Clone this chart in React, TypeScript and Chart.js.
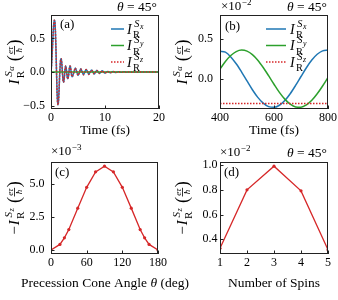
import React, { useEffect, useRef } from "react";
import { Chart, registerables } from "chart.js";
Chart.register(...registerables);

// ---------- data ----------
// (a) early-time currents, theta = 45 deg
const timeA = [
  0.0, 0.1, 0.2, 0.3, 0.4, 0.5, 0.6, 0.7, 0.8, 0.9,
  1.0, 1.1, 1.2, 1.3, 1.4, 1.5, 1.6, 1.7, 1.8, 1.9,
  2.0, 2.1, 2.2, 2.3, 2.4, 2.5, 2.6, 2.7, 2.8, 2.9,
  3.0, 3.1, 3.2, 3.3, 3.4, 3.5, 3.6, 3.7, 3.8, 3.9, 4.0,
  4.25, 4.5, 4.75, 5.0, 5.25, 5.5, 5.75, 6.0, 6.25, 6.5, 6.75, 7.0,
  7.25, 7.5, 7.75, 8.0, 8.25, 8.5, 8.75, 9.0, 9.25, 9.5, 9.75, 10.0,
  10.5, 11.0, 11.5, 12.0, 12.5, 13.0, 13.5, 14.0, 14.5, 15.0,
  15.5, 16.0, 16.5, 17.0, 17.5, 18.0, 18.5, 19.0, 19.5, 20.0,
];
const sxA = [
  0.0, 0.1, 0.25, 0.42, 0.58, 0.71, 0.77, 0.76, 0.64, 0.4,
  0.08, -0.24, -0.43, -0.49, -0.42, -0.25, -0.05, 0.1, 0.19, 0.2,
  0.13, 0.01, -0.1, -0.15, -0.13, -0.05, 0.04, 0.09, 0.07, 0.0,
  -0.07, -0.1, -0.08, -0.02, 0.05, 0.09, 0.08, 0.02, -0.04, -0.07, -0.06,
  0.0, 0.06, 0.01, -0.05, -0.01, 0.05, 0.01, -0.04, 0.0, 0.04, 0.01, -0.035,
  0.0, 0.03, 0.005, -0.03, 0.0, 0.025, 0.0, -0.02, 0.0, 0.02, 0.0, -0.015,
  0.01, -0.01, 0.008, -0.006, 0.005, -0.004, 0.003, -0.002, 0.002, -0.001,
  0.001, 0.0, 0.0, 0.0, 0.0, 0.0, 0.0, 0.0, 0.0, 0.0,
];
const szA = sxA;
const timeSyA = [0, 20];
const syA = [0, 0];

// (b) late-time currents (x 10^-2)
const timeB = [400, 420, 440, 460, 480, 500, 520, 540, 560, 580, 600, 620, 640, 660, 680, 700, 720, 740, 760, 780, 800];
const sxB = [0.345, 0.333, 0.274, 0.188, 0.084, -0.028, -0.138, -0.234, -0.307, -0.35, -0.359, -0.333, -0.274, -0.188, -0.084, 0.028, 0.138, 0.234, 0.307, 0.35, 0.36];
const syB = [0.121, 0.216, 0.291, 0.341, 0.36, 0.347, 0.303, 0.233, 0.141, 0.038, -0.069, -0.171, -0.256, -0.32, -0.354, -0.357, -0.329, -0.271, -0.189, -0.091, 0.016];
const timeSzB = [400, 800];
const szB = [-0.31, -0.31];

// (c) vs cone angle (x 10^-3)
const angleC = [0, 15, 22.5, 30, 45, 60, 75, 90, 105, 120, 135, 150, 157.5, 165, 180];
const valC = [0, 0.43, 0.93, 1.56, 3.19, 4.77, 5.95, 6.38, 5.95, 4.77, 3.19, 1.56, 0.93, 0.43, 0];

// (d) vs number of spins (x 10^-2)
const spinsD = [1, 2, 3, 4, 5];
const valD = [0.326, 0.8, 0.992, 0.792, 0.314];

// ticks
const xTicksA = [0, 10, 20];
const xLabelsA = ["0", "10", "20"];
const yTicksA = [-0.5, 0, 0.5];
const yLabelsA = ["\u22120.5", "0.0", "0.5"];
const xTicksB = [400, 600, 800];
const xLabelsB = ["400", "600", "800"];
const yTicksB = [0, 0.5];
const yLabelsB = ["0.0", "0.5"];
const xTicksC = [0, 60, 120, 180];
const xLabelsC = ["0", "60", "120", "180"];
const yTicksC = [0, 2.5, 5];
const yLabelsC = ["0.0", "2.5", "5.0"];
const xTicksD = [1, 2, 3, 4, 5];
const xLabelsD = ["1", "2", "3", "4", "5"];
const yTicksD = [0.4, 0.6, 0.8, 1.0];
const yLabelsD = ["0.4", "0.6", "0.8", "1.0"];

// ---------- style ----------
const W = 338;
const H = 300;
const BLUE = "#1f77b4";
const GREEN = "#2ca02c";
const RED = "#d62728";
const SERIF = '"Liberation Serif", "Times New Roman", serif';
const YW = 40;
const XH = 20;

const rm = (s: number) => `${s}px ${SERIF}`;
const it = (s: number) => `italic ${s}px ${SERIF}`;

function irSymbol(ctx: CanvasRenderingContext2D, x: number, y: number, size: number, sub: string, minus: boolean, draw: boolean): number {
  let cx = x;
  if (minus) {
    ctx.font = rm(size);
    if (draw) ctx.fillText("\u2212", cx, y);
    cx += ctx.measureText("\u2212").width + 1;
  }
  ctx.font = it(size);
  if (draw) ctx.fillText("I", cx, y);
  cx += ctx.measureText("I").width + size * 0.15;
  const small = size * 0.74;
  const tiny = size * 0.56;
  ctx.font = rm(small);
  const wR = ctx.measureText("R").width;
  if (draw) ctx.fillText("R", cx - size * 0.06, y + size * 0.34);
  ctx.font = it(small);
  const wS = ctx.measureText("S").width;
  const sy = y - size * 0.5;
  if (draw) ctx.fillText("S", cx + size * 0.04, sy);
  ctx.font = it(tiny);
  const wsub = ctx.measureText(sub).width;
  if (draw) ctx.fillText(sub, cx + size * 0.04 + wS + 0.4, sy + size * 0.18);
  cx += Math.max(wR, size * 0.04 + wS + wsub + 0.4);
  return cx - x;
}

function fracUnit(ctx: CanvasRenderingContext2D, x: number, y: number, size: number, draw: boolean): number {
  let cx = x;
  const ps = size * 1.2;
  ctx.font = rm(ps);
  const wp = ctx.measureText("(").width;
  if (draw) ctx.fillText("(", cx, y + size * 0.08);
  cx += wp + 0.5;
  const fs = size * 0.6;
  ctx.font = it(fs);
  const wn = ctx.measureText("e\u03c4").width;
  const wd = ctx.measureText("\u0127").width;
  const w = Math.max(wn, wd) + 1.5;
  if (draw) {
    ctx.fillText("e\u03c4", cx + (w - wn) / 2, y - size * 0.4);
    ctx.fillText("\u0127", cx + (w - wd) / 2, y + size * 0.22);
    ctx.fillRect(cx, y - size * 0.33, w, 0.8);
  }
  cx += w + 0.5;
  ctx.font = rm(ps);
  if (draw) ctx.fillText(")", cx, y + size * 0.08);
  cx += ctx.measureText(")").width;
  return cx - x;
}

function yTitle(ctx: CanvasRenderingContext2D, cx: number, cy: number, size: number, sub: string, minus: boolean) {
  ctx.save();
  ctx.translate(cx, cy);
  ctx.rotate(-Math.PI / 2);
  ctx.textAlign = "left";
  ctx.textBaseline = "alphabetic";
  ctx.fillStyle = "#000";
  const gap = size * 0.35;
  const w = irSymbol(ctx, 0, 0, size, sub, minus, false) + gap + fracUnit(ctx, 0, 0, size, false);
  let x = -w / 2;
  const y = size * 0.4;
  x += irSymbol(ctx, x, y, size, sub, minus, true) + gap;
  fracUnit(ctx, x, y, size, true);
  ctx.restore();
}

function theta45(ctx: CanvasRenderingContext2D, right: number, cy: number) {
  const size = 13.5;
  ctx.textBaseline = "middle";
  ctx.textAlign = "left";
  ctx.font = rm(size);
  const rest = " = 45\u00b0";
  const w2 = ctx.measureText(rest).width;
  ctx.font = it(size);
  const w1 = ctx.measureText("\u03b8").width;
  const x = right - w1 - w2;
  ctx.fillText("\u03b8", x, cy);
  ctx.font = rm(size);
  ctx.fillText(rest, x + w1, cy);
}

function times10(ctx: CanvasRenderingContext2D, x: number, cy: number, exp: string) {
  ctx.textBaseline = "middle";
  ctx.textAlign = "left";
  ctx.font = rm(13);
  ctx.fillText("\u00d710", x, cy + 1);
  const w = ctx.measureText("\u00d710").width;
  ctx.font = rm(9);
  ctx.fillText("\u2212" + exp, x + w + 0.5, cy - 3.5);
}

function plainText(ctx: CanvasRenderingContext2D, s: string, x: number, cy: number, size: number, align: CanvasTextAlign) {
  ctx.textBaseline = "middle";
  ctx.textAlign = align;
  ctx.font = rm(size);
  ctx.fillText(s, x, cy);
}

function coneTitle(ctx: CanvasRenderingContext2D, cx: number, cy: number) {
  const size = 13.5;
  const p1 = "Precession Cone Angle ";
  const p2 = "\u03b8";
  const p3 = " (deg)";
  ctx.textBaseline = "middle";
  ctx.textAlign = "left";
  ctx.font = rm(size);
  const w1 = ctx.measureText(p1).width;
  const w3 = ctx.measureText(p3).width;
  ctx.font = it(size);
  const w2 = ctx.measureText(p2).width;
  let x = cx - (w1 + w2 + w3) / 2;
  ctx.font = rm(size);
  ctx.fillText(p1, x, cy);
  x += w1;
  ctx.font = it(size);
  ctx.fillText(p2, x, cy);
  x += w2;
  ctx.font = rm(size);
  ctx.fillText(p3, x, cy);
}

function legend(ctx: CanvasRenderingContext2D, x0: number, x1: number, lx: number, rows: number[]) {
  const items = [
    { c: BLUE, dash: [] as number[], s: "x" },
    { c: GREEN, dash: [] as number[], s: "y" },
    { c: RED, dash: [1.5, 1.5], s: "z" },
  ];
  items.forEach((item, i) => {
    const y = rows[i];
    ctx.save();
    ctx.strokeStyle = item.c;
    ctx.lineWidth = 1.5;
    ctx.setLineDash(item.dash);
    ctx.beginPath();
    ctx.moveTo(x0, y);
    ctx.lineTo(x1, y);
    ctx.stroke();
    ctx.restore();
    ctx.textAlign = "left";
    ctx.textBaseline = "alphabetic";
    ctx.fillStyle = "#000";
    irSymbol(ctx, lx, y + 4.5, 14, item.s, false, true);
  });
}

type Box = { l: number; r: number; t: number; b: number };

function frameAndTicks(chart: any) {
  const ctx: CanvasRenderingContext2D = chart.ctx;
  const a = chart.chartArea;
  const xs = chart.scales.x;
  const ys = chart.scales.y;
  ctx.save();
  ctx.strokeStyle = "#222";
  ctx.lineWidth = 1;
  ctx.beginPath();
  xs.ticks.forEach((t: any) => {
    const p = Math.round(xs.getPixelForValue(t.value)) + 0.5;
    ctx.moveTo(p, a.bottom);
    ctx.lineTo(p, a.bottom - 3.5);
  });
  ys.ticks.forEach((t: any) => {
    const p = Math.round(ys.getPixelForValue(t.value)) + 0.5;
    ctx.moveTo(a.left, p);
    ctx.lineTo(a.left + 3.5, p);
  });
  ctx.stroke();
  ctx.strokeRect(a.left + 0.5, a.top + 0.5, a.right - a.left - 1, a.bottom - a.top - 1);
  ctx.restore();
}

function makeChart(
  canvas: HTMLCanvasElement,
  box: Box,
  xr: [number, number],
  yr: [number, number],
  xTicks: number[],
  xLabels: string[],
  yTicks: number[],
  yLabels: string[],
  yPad: number,
  datasets: any[],
  deco: (ctx: CanvasRenderingContext2D, chart: any) => void
) {
  return new Chart(canvas, {
    type: "line",
    data: { datasets },
    options: {
      responsive: false,
      animation: false,
      devicePixelRatio: 1,
      events: [],
      layout: {
        padding: { left: box.l - YW, right: W - box.r, top: box.t, bottom: H - box.b - XH },
      },
      plugins: { legend: { display: false }, tooltip: { enabled: false } },
      scales: {
        x: {
          type: "linear",
          min: xr[0],
          max: xr[1],
          afterBuildTicks: (s: any) => {
            s.ticks = xTicks.map((v) => ({ value: v }));
          },
          afterFit: (s: any) => {
            s.height = XH;
            s.paddingLeft = 0;
            s.paddingRight = 0;
          },
          grid: { display: false, drawTicks: false, tickLength: 0 },
          border: { display: false },
          ticks: {
            autoSkip: false,
            maxRotation: 0,
            minRotation: 0,
            padding: 2,
            color: "#000",
            font: { family: SERIF, size: 12 },
            callback: (_v: any, i: number) => xLabels[i],
          },
        },
        y: {
          type: "linear",
          min: yr[0],
          max: yr[1],
          afterBuildTicks: (s: any) => {
            s.ticks = yTicks.map((v) => ({ value: v }));
          },
          afterFit: (s: any) => {
            s.width = YW;
            s.paddingTop = 0;
            s.paddingBottom = 0;
          },
          grid: { display: false, drawTicks: false, tickLength: 0 },
          border: { display: false },
          ticks: {
            autoSkip: false,
            padding: yPad,
            color: "#000",
            font: { family: SERIF, size: 12 },
            callback: (_v: any, i: number) => yLabels[i],
          },
        },
      },
    } as any,
    plugins: [
      {
        id: "deco",
        afterDraw(chart: any) {
          frameAndTicks(chart);
          const ctx = chart.ctx as CanvasRenderingContext2D;
          ctx.save();
          ctx.fillStyle = "#000";
          deco(ctx, chart);
          ctx.restore();
        },
      },
    ],
  });
}

const xy = (xs: number[], ys: number[]) => xs.map((x, i) => ({ x, y: ys[i] }));

const lineDs = (data: any[], color: string, order: number, dashed = false) => ({
  data,
  borderColor: color,
  backgroundColor: color,
  borderWidth: 1.5,
  borderDash: dashed ? [1.5, 1.5] : [],
  pointRadius: 0,
  cubicInterpolationMode: "monotone",
  fill: false,
  order,
});

const markerDs = (data: any[]) => ({
  data,
  borderColor: RED,
  backgroundColor: RED,
  borderWidth: 1.3,
  pointRadius: 1.6,
  pointBorderWidth: 0,
  pointBackgroundColor: RED,
  tension: 0,
  fill: false,
});

export default function App() {
  const ra = useRef<HTMLCanvasElement>(null);
  const rb = useRef<HTMLCanvasElement>(null);
  const rc = useRef<HTMLCanvasElement>(null);
  const rd = useRef<HTMLCanvasElement>(null);

  useEffect(() => {
    const charts: Chart[] = [];
    charts.push(
      makeChart(
        ra.current!,
        { l: 51, r: 159, t: 15, b: 109 },
        [0, 20],
        [-0.55, 0.85],
        xTicksA, xLabelsA, yTicksA, yLabelsA, 6,
        [
          lineDs(xy(timeA, sxA), BLUE, 3),
          lineDs(xy(timeSyA, syA), GREEN, 2),
          lineDs(xy(timeA, szA), RED, 1, true),
        ],
        (ctx) => {
          plainText(ctx, "(a)", 60, 25, 13, "left");
          theta45(ctx, 157, 7.5);
          legend(ctx, 111, 124, 127, [29, 45.5, 62]);
          plainText(ctx, "Time (fs)", 105, 130, 13.5, "center");
          yTitle(ctx, 13, 62, 15, "\u03b1", false);
        }
      )
    );
    charts.push(
      makeChart(
        rb.current!,
        { l: 220, r: 328, t: 15, b: 109 },
        [400, 800],
        [-0.38, 0.8],
        xTicksB, xLabelsB, yTicksB, yLabelsB, 7,
        [
          lineDs(xy(timeB, sxB), BLUE, 3),
          lineDs(xy(timeB, syB), GREEN, 2),
          lineDs(xy(timeSzB, szB), RED, 1, true),
        ],
        (ctx) => {
          plainText(ctx, "(b)", 225, 26.5, 13, "left");
          times10(ctx, 221, 6, "2");
          theta45(ctx, 327, 7.5);
          legend(ctx, 266, 286, 290, [29, 45.5, 62]);
          plainText(ctx, "Time (fs)", 274, 130, 13.5, "center");
          yTitle(ctx, 181, 62, 15, "\u03b1", false);
        }
      )
    );
    charts.push(
      makeChart(
        rc.current!,
        { l: 51, r: 158, t: 162, b: 254 },
        [0, 180],
        [-0.3, 6.7],
        xTicksC, xLabelsC, yTicksC, yLabelsC, 6.5,
        [markerDs(xy(angleC, valC))],
        (ctx) => {
          plainText(ctx, "(c)", 55, 173, 13, "left");
          times10(ctx, 51, 151, "3");
          coneTitle(ctx, 105, 283);
          yTitle(ctx, 13, 208, 15, "z", true);
        }
      )
    );
    charts.push(
      makeChart(
        rd.current!,
        { l: 220, r: 328, t: 162, b: 254 },
        [1, 5],
        [0.28, 1.026],
        xTicksD, xLabelsD, yTicksD, yLabelsD, 2.5,
        [markerDs(xy(spinsD, valD))],
        (ctx) => {
          plainText(ctx, "(d)", 224, 173, 13, "left");
          times10(ctx, 220, 152, "2");
          theta45(ctx, 327, 153);
          plainText(ctx, "Number of Spins", 274, 283, 13.5, "center");
          yTitle(ctx, 181, 208, 15, "z", true);
        }
      )
    );
    return () => charts.forEach((c) => c.destroy());
  }, []);

  const cs: React.CSSProperties = { position: "absolute", left: 0, top: 0, width: W, height: H };
  return (
    <div style={{ position: "fixed", left: 0, top: 0, width: W, height: H, background: "#fff" }}>
      <canvas ref={ra} width={W} height={H} style={cs} />
      <canvas ref={rb} width={W} height={H} style={cs} />
      <canvas ref={rc} width={W} height={H} style={cs} />
      <canvas ref={rd} width={W} height={H} style={cs} />
    </div>
  );
}
